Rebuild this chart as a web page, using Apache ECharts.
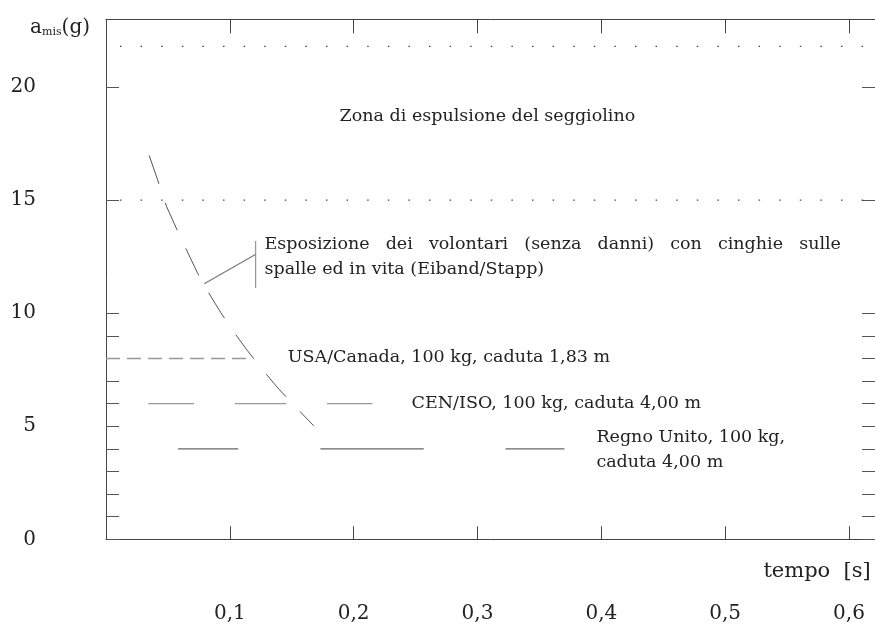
<!DOCTYPE html>
<html>
<head>
<meta charset="utf-8">
<script src="https://cdn.jsdelivr.net/npm/echarts@6/dist/echarts.min.js"></script>
<style>
html,body{margin:0;padding:0;background:#fff;overflow:hidden;}
#c{width:875px;height:625px;}
</style>
</head>
<body>
<div id="c"></div>
<script>
// ---- data ----
const xTicks = [0.1, 0.2, 0.3, 0.4, 0.5, 0.6];
const xTickLabels = ['0,1', '0,2', '0,3', '0,4', '0,5', '0,6'];
const yLabelValues = [0, 5, 10, 15, 20];
const yTickValues = [0, 1, 2, 3, 4, 5, 6, 7, 8, 9, 10, 15, 20];
const xAxisTitle = 'tempo  [s]';

// Eiband/Stapp tolerance curve (dashed)
const curveX = [0.0349, 0.0435, 0.0490, 0.0575, 0.0645, 0.0736, 0.0817, 0.0925, 0.1019, 0.1140, 0.1242, 0.1377, 0.1484, 0.1677];
const curveY = [16.98, 15.60, 14.71, 13.67, 12.86, 11.81, 11.01, 10.04, 9.27, 8.36, 7.65, 6.76, 6.13, 5.02];

// ejection-seat zone bounds (dotted)
const ejectionLevels = [21.8, 15];
const ejectionRange = [0.0113, 0.62];

// USA/Canada
const usaLevel = 8;
const usaRange = [0, 0.1185];
// CEN/ISO
const cenLevel = 6;
const cenSegments = [[0.0341, 0.0710], [0.1040, 0.1457], [0.1785, 0.2151]];
// Regno Unito
const ukLevel = 4;
const ukSegments = [[0.0582, 0.1067], [0.1731, 0.2566], [0.3226, 0.3702]];

// bracket of the Eiband/Stapp annotation
const bracketVertical = [[0.1208, 13.19], [0.1208, 11.12]];
const bracketLeader = [[0.0793, 11.30], [0.1207, 12.60]];

// annotation texts [x, y, text]
const labelZona = [0.308, 18.71, 'Zona di espulsione del seggiolino'];
const labelEspLine1 = [0.128, 13.04, 'Esposizione dei volontari (senza danni) con cinghie sulle'];
const labelEspLine1End = 0.5935;
const labelEspLine2 = [0.128, 11.93, 'spalle ed in vita (Eiband/Stapp)'];
const labelUsa = [0.1468, 8.03, 'USA/Canada, 100 kg, caduta 1,83 m'];
const labelCen = [0.2468, 5.99, 'CEN/ISO, 100 kg, caduta 4,00 m'];
const labelUk1 = [0.396, 4.49, 'Regno Unito, 100 kg,'];
const labelUk2 = [0.396, 3.38, 'caduta 4,00 m'];

// ---- chart ----
const FONT = 'DejaVu Serif';
const AX = '#444';
const X_MAX = 0.621;
const chart = echarts.init(document.getElementById('c'), null, {renderer: 'canvas'});

function seg(x0, x1, y) { return [[x0, y], [x1, y]]; }
const series = [];
function lineSeries(data, color, width, type) {
  series.push({
    type: 'line', data: data, symbol: 'none', silent: true, animation: false,
    lineStyle: {color: color, width: width, type: type || 'solid'}
  });
}
ejectionLevels.forEach(l => lineSeries(seg(ejectionRange[0], ejectionRange[1], l), '#444', 1.3, [1.5, 19.1]));
lineSeries(curveX.map((x, i) => [x, curveY[i]]), '#555', 1, [30, 20]);
lineSeries(seg(usaRange[0], usaRange[1], usaLevel), '#999', 1.6, [14, 7]);
cenSegments.forEach(s => lineSeries(seg(s[0], s[1], cenLevel), '#999', 1.4));
ukSegments.forEach(s => lineSeries(seg(s[0], s[1], ukLevel), '#666', 1.1));
lineSeries(bracketVertical, '#999', 1.3);
lineSeries(bracketLeader, '#777', 1.1);

chart.setOption({
  animation: false,
  backgroundColor: '#fff',
  grid: {left: 106, right: -1, top: 19.3, bottom: 85.7},
  xAxis: [{
    type: 'value', position: 'bottom', min: 0, max: X_MAX,
    axisLine: {show: true, onZero: false, lineStyle: {color: AX, width: 1}},
    splitLine: {show: false},
    axisTick: {show: true, inside: true, length: 13, customValues: xTicks, lineStyle: {color: AX}},
    axisLabel: {
      customValues: xTicks, margin: 74, verticalAlign: 'middle',
      fontFamily: FONT, fontSize: 20, color: '#222',
      formatter: v => xTickLabels[xTicks.findIndex(t => Math.abs(t - v) < 1e-9)] || ''
    }
  }, {
    type: 'value', position: 'top', min: 0, max: X_MAX,
    axisLine: {show: true, onZero: false, lineStyle: {color: AX, width: 1}},
    splitLine: {show: false},
    axisTick: {show: true, inside: true, length: 14, customValues: xTicks, lineStyle: {color: AX}},
    axisLabel: {show: false}
  }],
  yAxis: [{
    type: 'value', position: 'left', min: 0, max: 23,
    axisLine: {show: true, onZero: false, lineStyle: {color: AX, width: 1}},
    splitLine: {show: false},
    axisTick: {show: true, inside: true, length: 13, customValues: yTickValues, lineStyle: {color: '#555'}},
    axisLabel: {customValues: yLabelValues, margin: 70, align: 'right', fontFamily: FONT, fontSize: 20, color: '#222'},
    name: '{a|a}{s|mis}{a|(g)}', nameLocation: 'end', nameGap: 0,
    nameTextStyle: {
      align: 'right', verticalAlign: 'middle', padding: [16, 16, 0, 0],
      rich: {
        a: {fontFamily: FONT, fontSize: 20, color: '#222'},
        s: {fontFamily: FONT, fontSize: 11, color: '#222', verticalAlign: 'bottom', padding: [8, 0, 0, 0]}
      }
    }
  }, {
    type: 'value', position: 'right', min: 0, max: 23,
    axisLine: {show: false, onZero: false},
    splitLine: {show: false},
    axisTick: {show: true, inside: true, length: 13, customValues: yTickValues, lineStyle: {color: '#555'}},
    axisLabel: {show: false}
  }],
  series: series
});

// annotations positioned through the axes
const TS = {fontFamily: FONT, fontSize: 17.5, fill: '#222'};
function px(p) { return chart.convertToPixel({xAxisIndex: 0, yAxisIndex: 0}, [p[0], p[1]]); }
const graphics = [];
function addText(lbl, align) {
  const p = px(lbl);
  graphics.push({type: 'text', x: p[0], y: p[1], silent: true,
    style: Object.assign({}, TS, {text: lbl[2], align: align || 'left', verticalAlign: 'middle'})});
}
addText(labelZona, 'center');
addText(labelEspLine2);
addText(labelUsa);
addText(labelCen);
addText(labelUk1);
addText(labelUk2);

// x axis title, below the right end of the axis
(function () {
  const p = px([0.62, 0]);
  graphics.push({type: 'text', x: p[0] - 3, y: p[1] + 32, silent: true,
    style: {text: xAxisTitle, fontFamily: FONT, fontSize: 21, fill: '#222', align: 'right', verticalAlign: 'middle'}});
})();

// justified first line of the Eiband/Stapp annotation
(function () {
  const ctx = document.createElement('canvas').getContext('2d');
  ctx.font = TS.fontSize + 'px "' + FONT + '"';
  const words = labelEspLine1[2].split(' ');
  const p0 = px(labelEspLine1);
  const p1 = px([labelEspLine1End, labelEspLine1[1]]);
  const widths = words.map(w => ctx.measureText(w).width);
  const total = widths.reduce((a, b) => a + b, 0);
  const gap = (p1[0] - p0[0] - total) / (words.length - 1);
  let x = p0[0];
  words.forEach((w, i) => {
    graphics.push({type: 'text', x: x, y: p0[1], silent: true,
      style: Object.assign({}, TS, {text: w, align: 'left', verticalAlign: 'middle'})});
    x += widths[i] + gap;
  });
})();

chart.setOption({graphic: graphics});
</script>
</body>
</html>
